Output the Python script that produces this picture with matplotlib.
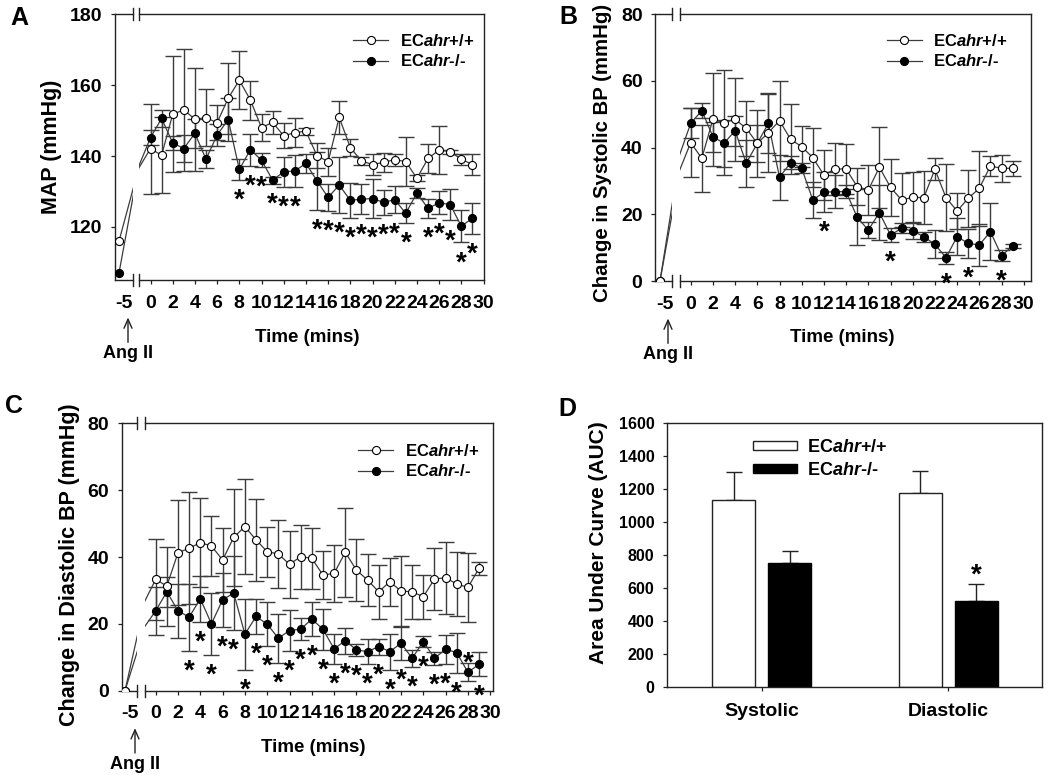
import numpy as np
import matplotlib
matplotlib.use('Agg')
import matplotlib.pyplot as plt
from matplotlib.lines import Line2D
from matplotlib.patches import Patch
import matplotlib.transforms as mtransforms

# ---------------- data ----------------
minutes = np.arange(0, 30)
pre_time = -5
x_ticks = np.arange(0, 31, 2)

# Panel A: MAP (mmHg)
A_wt_pre, A_ko_pre = 116.0, 107.0
A_wt = [142.1, 140.2, 151.8, 153.0, 150.4, 150.8, 149.4, 156.3, 161.4, 155.8,
        148.0, 149.5, 145.7, 146.6, 147.0, 140.1, 138.4, 150.9, 142.4, 138.6,
        137.6, 138.2, 139.0, 138.4, 133.7, 139.3, 141.7, 141.2, 139.1, 137.6]
A_wt_err = [12.7, 10.7, 16.3, 17.2, 14.5, 8.0, 5.0, 10.0, 8.2, 5.5,
            3.8, 3.2, 3.5, 4.0, 1.0, 3.5, 4.0, 4.7, 2.4, 1.0,
            3.0, 2.7, 1.7, 7.0, 0.8, 4.1, 6.7, 0.5, 1.5, 3.0]
A_ko = [145.2, 150.6, 143.7, 142.1, 146.4, 139.1, 145.9, 150.3, 136.2, 141.8,
        138.8, 133.2, 135.5, 135.8, 137.9, 133.0, 128.3, 131.8, 127.5, 127.8,
        128.0, 126.9, 127.7, 123.8, 129.6, 125.2, 126.8, 126.3, 120.2, 122.4]
A_ko_err = [2.0, 2.4, 2.0, 3.8, 4.0, 2.6, 3.0, 6.0, 3.0, 4.5,
            2.0, 1.0, 4.2, 4.5, 2.6, 8.2, 3.7, 7.9, 5.0, 4.3,
            5.5, 3.5, 3.9, 2.8, 1.5, 2.6, 3.2, 4.5, 4.6, 4.4]
A_sig = [8, 9, 10, 11, 12, 13, 15, 16, 17, 18, 19, 20, 21, 22, 23, 25, 26, 27, 28, 29]
A_sig_above = []

# Panel B: change in systolic BP (mmHg)
B_wt_pre, B_ko_pre = 0.0, 0.0
B_wt = [41.5, 36.8, 48.5, 47.5, 48.5, 45.8, 41.3, 44.5, 48.1, 42.5,
        40.3, 37.0, 31.8, 33.6, 33.6, 28.3, 27.3, 34.1, 28.1, 24.3,
        25.1, 25.0, 33.5, 25.0, 21.0, 24.8, 27.8, 34.5, 33.8, 33.8]
B_wt_err = [10.4, 10.0, 13.9, 15.7, 12.4, 8.3, 10.0, 11.7, 12.0, 10.5,
            6.2, 8.8, 7.5, 7.8, 7.5, 5.5, 7.5, 12.2, 8.6, 8.0,
            7.5, 8.0, 3.3, 10.0, 5.5, 8.5, 11.3, 3.1, 4.0, 2.3]
B_ko = [47.3, 51.1, 43.3, 41.3, 45.1, 35.3, 41.3, 47.3, 31.1, 35.5,
        33.8, 24.3, 26.6, 26.8, 26.8, 19.1, 15.3, 20.5, 13.8, 15.8,
        15.0, 13.3, 11.0, 7.0, 13.3, 11.3, 10.8, 14.8, 7.6, 10.5]
B_ko_err = [4.5, 2.2, 4.5, 7.0, 4.5, 7.0, 5.5, 9.0, 6.8, 2.0,
            1.5, 5.5, 6.0, 5.0, 2.0, 8.4, 2.5, 8.3, 2.0, 1.5,
            2.3, 1.5, 4.2, 1.8, 5.5, 4.3, 6.3, 8.5, 1.7, 0.5]
B_sig = [12, 18, 23, 25, 28]
B_sig_above = []

# Panel C: change in diastolic BP (mmHg)
C_wt_pre, C_ko_pre = 0.0, 0.0
C_wt = [33.3, 31.3, 41.3, 42.6, 44.3, 43.3, 39.1, 45.9, 49.1, 45.1,
        41.6, 40.9, 37.8, 40.1, 39.6, 34.6, 35.1, 41.4, 36.1, 33.1,
        29.6, 32.6, 29.8, 29.6, 28.1, 33.4, 33.8, 31.9, 30.9, 36.6]
C_wt_err = [12.2, 11.8, 15.8, 16.7, 13.3, 9.0, 9.6, 14.5, 14.2, 12.3,
            7.5, 10.2, 10.0, 9.6, 9.1, 7.1, 8.6, 13.3, 9.2, 7.8,
            8.0, 7.2, 10.5, 8.1, 6.6, 9.4, 10.8, 9.7, 10.4, 2.0]
C_ko = [23.9, 29.6, 23.9, 22.0, 27.5, 20.0, 27.2, 29.2, 16.9, 22.2,
        19.9, 15.7, 18.0, 18.4, 21.4, 18.4, 12.5, 15.0, 12.2, 11.7,
        13.2, 11.7, 14.2, 9.7, 14.7, 9.7, 12.4, 11.4, 5.5, 7.9]
C_ko_err = [7.2, 4.5, 8.0, 10.0, 6.8, 9.3, 8.0, 11.0, 10.6, 5.3,
            6.6, 7.3, 6.0, 3.3, 5.1, 6.1, 4.6, 3.9, 1.9, 3.7,
            2.4, 5.4, 5.0, 2.6, 1.6, 1.9, 4.4, 6.0, 2.7, 3.6]
C_sig = [3, 4, 5, 6, 7, 8, 9, 10, 11, 12, 13, 14, 15, 16, 17, 18, 19, 20,
         21, 22, 23, 24, 25, 26, 27, 28, 29]
C_sig_above = [28]

# Panel D: area under curve
D_categories = ['Systolic', 'Diastolic']
D_wt = [1132, 1173]
D_wt_err = [172, 137]
D_ko = [754, 524]
D_ko_err = [72, 101]
D_sig_ko = [False, True]

label_wt = r'EC$\mathit{ahr}$+/+'
label_ko = r'EC$\mathit{ahr}$-/-'

# ---------------- style ----------------
plt.rcParams['font.family'] = ['Liberation Sans', 'DejaVu Sans']
plt.rcParams['font.weight'] = 'bold'
plt.rcParams['axes.labelweight'] = 'bold'
plt.rcParams['mathtext.fontset'] = 'custom'
plt.rcParams['mathtext.it'] = 'Liberation Sans:italic:bold'
plt.rcParams['mathtext.rm'] = 'Liberation Sans:bold'
plt.rcParams['mathtext.bf'] = 'Liberation Sans:bold'

INK = '#222222'
LINE = '#3c3c3c'
STAR = 20
W, H = 1050, 775
fig = plt.figure(figsize=(W / 100, H / 100), dpi=100)
PX = mtransforms.Affine2D().scale(1 / W, -1 / H).translate(0, 1) + fig.transFigure


def rect(x0, y0, x1, y1):
    return [x0 / W, 1 - y1 / H, (x1 - x0) / W, (y1 - y0) / H]


def line_panel(L, pre_wt, pre_ko, wt, wt_err, ko, ko_err, sig, sig_above,
               ylim, yticks, ylabel):
    top, bottom = L['top'], L['bottom']
    axl = fig.add_axes(rect(L['left'][0], top, L['left'][1], bottom))
    axm = fig.add_axes(rect(L['main'][0], top, L['main'][1], bottom))
    pre_scale = 5.0
    axl.set_xlim((L['left'][0] - L['pre_px']) / pre_scale + pre_time,
                 (L['left'][1] - L['pre_px']) / pre_scale + pre_time)
    axm.set_xlim((L['main'][0] - L['zero_px']) / L['scale'],
                 (L['main'][1] - L['zero_px']) / L['scale'])
    t_all = np.concatenate([[pre_time], minutes])
    wt_all = np.concatenate([[pre_wt], wt])
    ko_all = np.concatenate([[pre_ko], ko])
    for ax in (axl, axm):
        ax.set_ylim(ylim)
        ax.plot(t_all, ko_all, color=LINE, lw=0.9, marker='o', ms=5.8,
                mfc='black', mec='black', mew=0.8, zorder=3)
        ax.plot(t_all, wt_all, color=LINE, lw=0.9, marker='o', ms=5.8,
                mfc='white', mec='black', mew=0.8, zorder=4)
        for s in ax.spines.values():
            s.set_color(INK)
            s.set_linewidth(1.0)
    axm.errorbar(minutes, ko, yerr=ko_err, fmt='none', ecolor=LINE,
                 elinewidth=1.0, capsize=5.5, capthick=1.0, zorder=2)
    axm.errorbar(minutes, wt, yerr=wt_err, fmt='none', ecolor=LINE,
                 elinewidth=1.0, capsize=5.5, capthick=1.0, zorder=2)

    axl.spines['right'].set_visible(False)
    axm.spines['left'].set_visible(False)

    # ticks
    axl.set_yticks(yticks)
    axl.tick_params(axis='y', direction='out', length=3, width=0.9,
                    labelsize=14, pad=6, color=INK)
    axl.set_xticks([pre_time])
    axl.set_xticklabels(['-5'])
    axl.tick_params(axis='x', length=0, labelsize=14, pad=10.5)
    shift = mtransforms.ScaledTranslation(4.5 / 100, 0, fig.dpi_scale_trans)
    for lab in axl.get_xticklabels():
        lab.set_transform(lab.get_transform() + shift)
    axm.set_yticks([])
    axm.set_xticks(x_ticks)
    axm.set_xticklabels([str(v) for v in x_ticks])
    axm.tick_params(axis='x', direction='out', length=3, width=0.9,
                    labelsize=14, pad=7.5, color=INK)

    # axis break marks
    hpx = bottom - top
    d = 6 / hpx
    for ax, xe in ((axl, 1), (axm, 0)):
        for ye in (0, 1):
            ax.plot([xe, xe], [ye - d, ye + d], transform=ax.transAxes,
                    color=INK, lw=1.0, clip_on=False)

    # significance asterisks
    for m in sig:
        i = int(np.where(minutes == m)[0][0])
        if m in sig_above:
            axm.annotate('*', xy=(m, ko[i] + ko_err[i]), xytext=(0, -5.5),
                         textcoords='offset points', ha='center', va='baseline',
                         fontsize=STAR, fontweight='bold', color='black')
        else:
            axm.annotate('*', xy=(m, ko[i] - ko_err[i]), xytext=(0, -20),
                         textcoords='offset points', ha='center', va='baseline',
                         fontsize=STAR, fontweight='bold', color='black')

    # Ang II arrow
    trans = axl.get_xaxis_transform() + mtransforms.ScaledTranslation(
        L['arrow_dx'] / 100, 0, fig.dpi_scale_trans)
    axl.annotate('Ang II', xy=(pre_time, 0), xycoords=trans,
                 xytext=(0, -53), textcoords='offset points', ha='center',
                 va='center', fontsize=13, fontweight='bold',
                 arrowprops=dict(arrowstyle='->,head_length=0.5,head_width=0.22',
                                 color=INK, lw=1.0, shrinkA=0, shrinkB=27))

    # labels
    axl.set_ylabel(ylabel, fontsize=L.get('ylabel_size', 15.5),
                   fontweight='bold', va='center')
    axl.yaxis.set_label_coords(*L['ylabel_xy'], transform=PX)
    axm.set_xlabel('Time (mins)', fontsize=13.5, fontweight='bold', va='center')
    axm.xaxis.set_label_coords(*L['xlabel_xy'], transform=PX)

    # legend
    handles = [Line2D([], [], color=LINE, lw=0.9, marker='o', ms=5.8,
                      mfc='white', mec='black', mew=0.8),
               Line2D([], [], color=LINE, lw=0.9, marker='o', ms=5.8,
                      mfc='black', mec='black', mew=0.8)]
    lx, ly = L['legend_xy']
    axm.legend(handles, [label_wt, label_ko], loc='center left',
               bbox_to_anchor=(lx / W, 1 - ly / H), bbox_transform=fig.transFigure,
               frameon=False, prop={'size': 12, 'weight': 'bold'},
               handlelength=2.1, handletextpad=0.7, labelspacing=0.25,
               borderpad=0, borderaxespad=0)

    fig.text(L['letter_xy'][0] / W, 1 - L['letter_xy'][1] / H, L['letter'],
             fontsize=18, fontweight='bold', ha='center', va='center')
    return axl, axm


LA = dict(left=(115, 133), main=(138.5, 484), top=14.3, bottom=280,
          zero_px=150.5, scale=11.1, pre_px=119, arrow_dx=9,
          ylabel_xy=(52, 147), xlabel_xy=(307, 337), legend_xy=(353, 51.3),
          letter='A', letter_xy=(19, 18))
LB = dict(left=(655, 671.7), main=(680, 1031), top=14.3, bottom=281,
          zero_px=690.7, scale=11.1, pre_px=660, arrow_dx=8,
          ylabel_xy=(602.5, 153), ylabel_size=14.7, xlabel_xy=(842.5, 337),
          legend_xy=(886.7, 51.3), letter='B', letter_xy=(568, 17))
LC = dict(left=(121.7, 136.7), main=(145, 493), top=423.3, bottom=690.7,
          zero_px=155.7, scale=11.15, pre_px=125, arrow_dx=10,
          ylabel_xy=(70, 565), xlabel_xy=(313, 747), legend_xy=(358, 461.3),
          letter='C', letter_xy=(14, 406))

line_panel(LA, A_wt_pre, A_ko_pre, A_wt, A_wt_err, A_ko, A_ko_err, A_sig,
           A_sig_above, (105, 180), [120, 140, 160, 180], 'MAP (mmHg)')
line_panel(LB, B_wt_pre, B_ko_pre, B_wt, B_wt_err, B_ko, B_ko_err, B_sig,
           B_sig_above, (0, 80), [0, 20, 40, 60, 80], 'Change in Systolic BP (mmHg)')
line_panel(LC, C_wt_pre, C_ko_pre, C_wt, C_wt_err, C_ko, C_ko_err, C_sig,
           C_sig_above, (0, 80), [0, 20, 40, 60, 80], 'Change in Diastolic BP (mmHg)')

# ---------------- panel D ----------------
axd = fig.add_axes(rect(667, 422.7, 1042, 687.3))
xc = np.arange(len(D_categories))
off, bw = 0.15, 0.233
axd.bar(xc - off, D_wt, width=bw, color='white', edgecolor=INK, lw=1.0, zorder=2)
axd.bar(xc + off, D_ko, width=bw, color='black', edgecolor='black', lw=1.0, zorder=2)
axd.errorbar(xc - off, D_wt, yerr=[np.zeros(len(D_wt)), D_wt_err], fmt='none',
             ecolor=INK, elinewidth=1.0, capsize=5.5, capthick=1.0, zorder=1)
axd.errorbar(xc + off, D_ko, yerr=[np.zeros(len(D_ko)), D_ko_err], fmt='none',
             ecolor=INK, elinewidth=1.0, capsize=5.5, capthick=1.0, zorder=1)
for i, s in enumerate(D_sig_ko):
    if s:
        axd.annotate('*', xy=(xc[i] + off, D_ko[i] + D_ko_err[i]), xytext=(0, 1),
                     textcoords='offset points', ha='center', va='baseline',
                     fontsize=STAR, fontweight='bold')
axd.set_xlim((667 - 761.7) / 186.6, (1042 - 761.7) / 186.6)
axd.set_ylim(0, 1600)
axd.set_yticks(np.arange(0, 1601, 200))
axd.set_xticks(xc)
axd.set_xticklabels(D_categories)
axd.tick_params(axis='y', direction='out', length=3, width=0.9, labelsize=11.5,
                pad=6, color=INK)
axd.tick_params(axis='x', direction='out', length=3, width=0.9, labelsize=14,
                pad=8, color=INK)
for s in axd.spines.values():
    s.set_color(INK)
    s.set_linewidth(1.0)
axd.set_ylabel('Area Under Curve (AUC)', fontsize=15, fontweight='bold', va='center')
axd.yaxis.set_label_coords(598.5, 542.5, transform=PX)
dh = [Patch(facecolor='white', edgecolor=INK, lw=1.0),
      Patch(facecolor='black', edgecolor='black', lw=1.0)]
axd.legend(dh, [label_wt, label_ko], loc='center left',
           bbox_to_anchor=(753.3 / W, 1 - 458.7 / H), bbox_transform=fig.transFigure,
           frameon=False, prop={'size': 13, 'weight': 'bold'},
           handlelength=2.4, handleheight=0.4, handletextpad=0.55,
           labelspacing=0.35, borderpad=0, borderaxespad=0)
fig.text(567 / W, 1 - 409 / H, 'D', fontsize=18, fontweight='bold',
         ha='center', va='center')

fig.savefig('out.png', dpi=100)
